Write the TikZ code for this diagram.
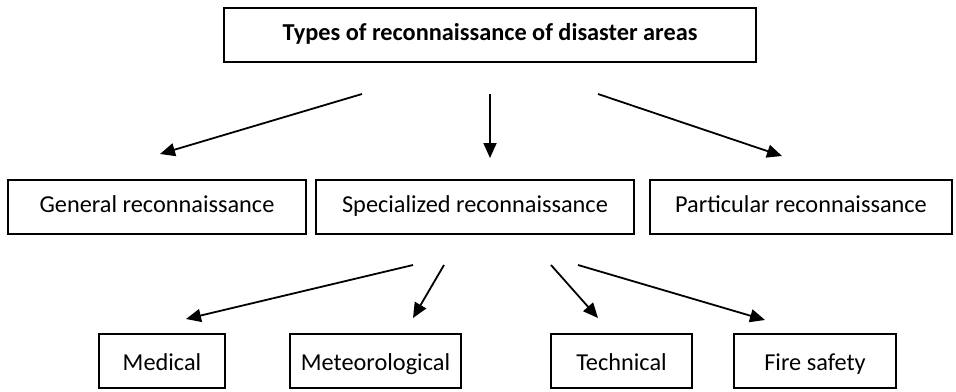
\documentclass[tikz,border=0pt]{standalone}
\usepackage{fontspec}
\setmainfont{Carlito}
\usetikzlibrary{arrows.meta}

\begin{document}
\begin{tikzpicture}[x=1bp,y=-1bp]
  \tikzset{
    box/.style={
      draw=black,
      line width=2.4bp,
      minimum height=54bp,
      inner sep=0pt,
      text height=15bp,
      text depth=5bp,
      font=\fontsize{24.4}{24.4}\selectfont,
      text centered
    },
    lowbox/.style={
      box,
      text height=18bp,
      text depth=0bp
    },
    arr/.style={
      line width=1.8bp,
      -{Triangle[length=15bp,width=13bp]}
    }
  }
  \useasboundingbox (0,0) rectangle (956,391);

  \node[box, minimum width=532bp, font=\bfseries\fontsize{24.4}{24.4}\selectfont] (types) at (490,35) {Types of reconnaissance of disaster areas};

  \node[box, minimum width=298bp] (general) at (157,207) {General reconnaissance};
  \node[box, minimum width=318bp] (special) at (475,207) {Specialized reconnaissance};
  \node[box, minimum width=302bp] (partic) at (801,207) {Particular reconnaissance};

  \node[lowbox, minimum width=126bp] (medical) at (162,361) {Medical};
  \node[lowbox, minimum width=171bp] (meteo) at (375.5,361) {Meteorological};
  \node[lowbox, minimum width=141bp] (techn) at (621.5,361) {Technical};
  \node[lowbox, minimum width=162bp] (fire) at (815,361) {Fire safety};

  % free arrow ends
  \coordinate (t1) at (362,94);
  \coordinate (t2) at (490,94);
  \coordinate (t3) at (598,94);
  \coordinate (g1) at (160,154);
  \coordinate (s1) at (490,158);
  \coordinate (p1) at (782,156);

  \coordinate (b1) at (413,265);
  \coordinate (b2) at (444,265);
  \coordinate (b3) at (551,265);
  \coordinate (b4) at (578,265);
  \coordinate (m1) at (186,319);
  \coordinate (m2) at (413,318);
  \coordinate (m3) at (598,318);
  \coordinate (m4) at (765,320);

  \draw[arr] (t1) -- (g1);
  \draw[arr] (t2) -- (s1);
  \draw[arr] (t3) -- (p1);

  \draw[arr] (b1) -- (m1);
  \draw[arr] (b2) -- (m2);
  \draw[arr] (b3) -- (m3);
  \draw[arr] (b4) -- (m4);
\end{tikzpicture}
\end{document}
